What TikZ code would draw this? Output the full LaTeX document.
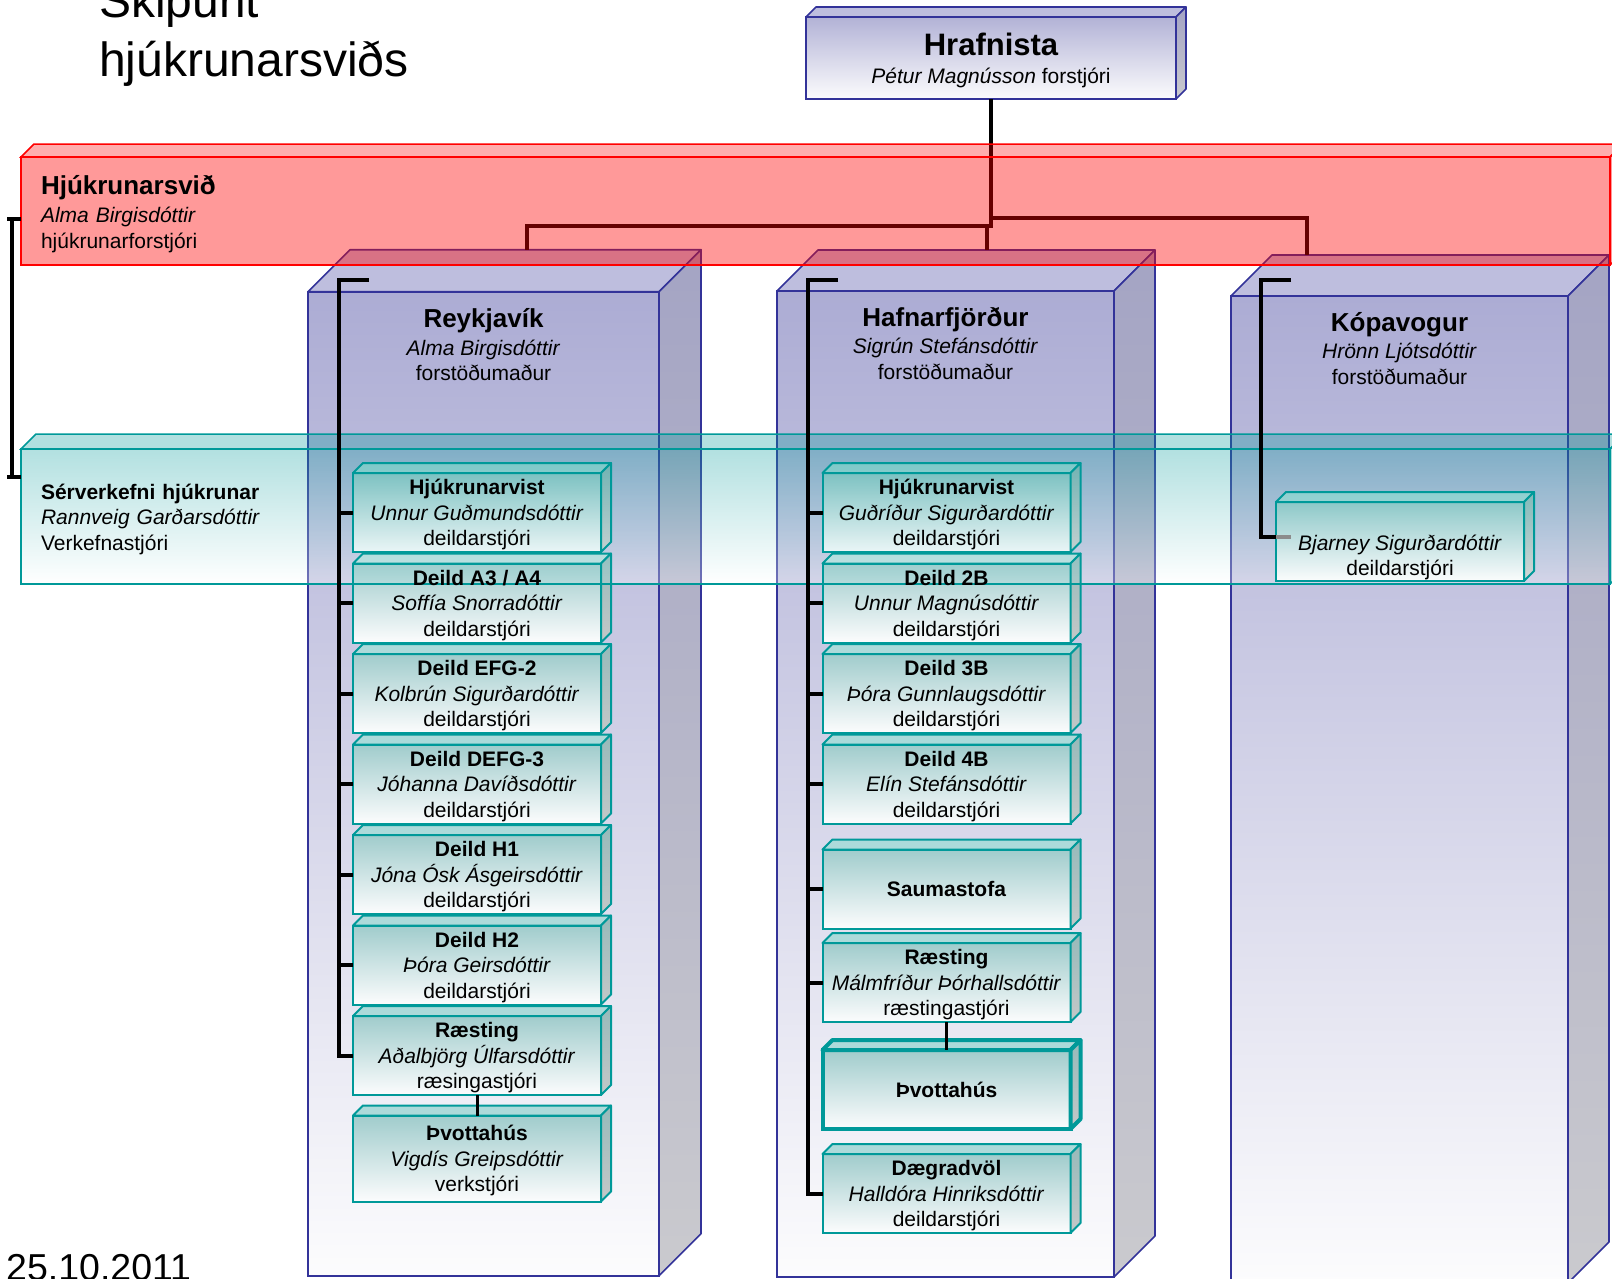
\documentclass[tikz,border=0pt]{standalone}
\usepackage{fontspec}
\setmainfont{Liberation Sans}
\usetikzlibrary{calc, positioning}

\definecolor{unitline}{RGB}{51,51,153}
\definecolor{unitfront}{RGB}{172,172,212}
\definecolor{unittop}{RGB}{190,190,222}
\definecolor{unitside}{RGB}{164,164,196}
\definecolor{unitsidelow}{RGB}{202,202,206}
\definecolor{headfront}{RGB}{178,178,214}
\definecolor{deptline}{RGB}{0,153,153}
\definecolor{deptfront}{RGB}{160,204,204}
\definecolor{depttop}{RGB}{172,218,218}
\definecolor{deptside}{RGB}{150,186,186}
\definecolor{deptsidelow}{RGB}{196,200,200}
\definecolor{paper}{RGB}{252,252,253}

% top and right faces of a box node: node, depth, top style, side style
\newcommand\boxfaces[4]{%
  \path[#3] (#1.north west) -- ++(#2,-#2) -- ($(#1.north east)+(#2,-#2)$) -- (#1.north east) -- cycle;
  \path[#4] (#1.north east) -- ++(#2,-#2) -- ($(#1.south east)+(#2,-#2)$) -- (#1.south east) -- cycle;
}

\begin{document}
\begin{tikzpicture}[x=1pt, y=-1pt,
    font=\fontsize{21}{25.5}\selectfont,
    unit/.style={draw=unitline, line width=1.6pt, top color=unitfront, bottom color=paper,
      anchor=north west, inner sep=0pt, outer sep=0pt},
    unittopface/.style={draw=unitline, line width=1.6pt, fill=unittop, line join=round},
    unitsideface/.style={draw=unitline, line width=1.6pt, top color=unitside, bottom color=unitsidelow, line join=round},
    unitlabel/.style={align=center, inner sep=0pt},
    bandtint/.style={path picture={
      \shade[top color=deptline, bottom color=white, fill opacity=0.3] (serv.north west) rectangle (serv.south east);
      \draw[deptline, line width=1.5pt] (serv.north west) rectangle (serv.south east);}},
    dept/.style={draw=deptline, line width=2pt, top color=deptfront, bottom color=paper, bandtint,
      minimum width=248pt, minimum height=79pt, inner sep=0pt, outer sep=0pt, align=center,
      text depth=-1.5pt},
    depttopface/.style={draw=deptline, line width=2pt, fill=depttop, bandtint, line join=round},
    deptsideface/.style={draw=deptline, line width=2pt, top color=deptside, bottom color=deptsidelow, bandtint, line join=round},
    band/.style={anchor=north west, minimum width=1589pt, text width=1549pt, inner xsep=20pt,
      inner ysep=0pt, outer sep=0pt, align=left, line width=1.5pt, text opacity=1},
    link/.style={line width=4pt},
  ]
  \useasboundingbox (0,0) rectangle (1612,1278);
  \clip (0,0) rectangle (1612,1278);

  % title and date
  \node[anchor=north west, inner sep=0pt, align=left, font=\fontsize{48}{59}\selectfont] (title) at (99,-17) {Skipurit\\hjúkrunarsviðs};
  \node[anchor=base west, inner sep=0pt, font=\fontsize{37.5}{37.5}\selectfont] (date) at (6,1280) {25.10.2011};

  % Reykjavík
  \node[unit, minimum width=351pt, minimum height=984pt] (rvk) at (308,291.7) {};
  \boxfaces{rvk}{42}{unittopface}{unitsideface}
  \node[unitlabel, below=17pt of rvk.north] (rvklabel) {{\fontsize{26}{26}\selectfont\bfseries Reykjavík}\\[2pt]\textit{Alma Birgisdóttir}\\forstöðumaður};

  % Hafnarfjörður
  \node[unit, minimum width=337pt, minimum height=986pt] (hfj) at (777,291) {};
  \boxfaces{hfj}{41}{unittopface}{unitsideface}
  \node[unitlabel, below=16pt of hfj.north] (hfjlabel) {{\fontsize{26}{26}\selectfont\bfseries Hafnarfjörður}\\[2pt]\textit{Sigrún Stefánsdóttir}\\forstöðumaður};

  % Kópavogur
  \node[unit, minimum width=337pt, minimum height=987pt] (kpv) at (1231,296) {};
  \boxfaces{kpv}{41}{unittopface}{unitsideface}
  \node[unitlabel, below=16pt of kpv.north] (kpvlabel) {{\fontsize{26}{26}\selectfont\bfseries Kópavogur}\\[2pt]\textit{Hrönn Ljótsdóttir}\\forstöðumaður};

  % Hrafnista
  \node[unit, top color=headfront, minimum width=370pt, minimum height=82pt, align=center,
    text depth=-2.5pt] (hraf) at (806,17)
    {{\fontsize{31}{31}\selectfont\bfseries Hrafnista}\\[2.5pt]\textit{Pétur Magnússon} forstjóri};
  \boxfaces{hraf}{10}{unittopface}{unitsideface}

  % Sérverkefni band
  \node[band, draw=deptline, top color=deptline, bottom color=white, fill opacity=0.3, minimum height=135pt,
    execute at begin node={\rule{0pt}{21pt}}] (serv) at (21,449)
    {\textbf{Sérverkefni hjúkrunar}\\\textit{Rannveig Garðarsdóttir}\\Verkefnastjóri};
  \boxfaces{serv}{15}{draw=deptline, line width=1.5pt, fill=deptline, fill opacity=0.3}{draw=deptline, line width=1.5pt, fill=deptline, fill opacity=0.3}

  % deildir Reykjavík
  \node[dept, anchor=north west] (r1) at (353,473) {\textbf{Hjúkrunarvist}\\\textit{Unnur Guðmundsdóttir}\\deildarstjóri};
  \node[dept, below=11.5pt of r1] (r2) {\textbf{Deild A3 / A4}\\\textit{Soffía Snorradóttir}\\deildarstjóri};
  \node[dept, below=11.5pt of r2] (r3) {\textbf{Deild EFG-2}\\\textit{Kolbrún Sigurðardóttir}\\deildarstjóri};
  \node[dept, below=11.5pt of r3] (r4) {\textbf{Deild DEFG-3}\\\textit{Jóhanna Davíðsdóttir}\\deildarstjóri};
  \node[dept, below=11.5pt of r4] (r5) {\textbf{Deild H1}\\\textit{Jóna Ósk Ásgeirsdóttir}\\deildarstjóri};
  \node[dept, below=11.5pt of r5] (r6) {\textbf{Deild H2}\\\textit{Þóra Geirsdóttir}\\deildarstjóri};
  \node[dept, below=11.5pt of r6] (r7) {\textbf{Ræsting}\\\textit{Aðalbjörg Úlfarsdóttir}\\ræsingastjóri};
  \node[dept, below=20.5pt of r7, minimum height=86pt] (r8) {\textbf{Þvottahús}\\\textit{Vigdís Greipsdóttir}\\verkstjóri};

  % deildir Hafnarfjörður
  \node[dept, anchor=north west] (h1) at (822.5,473) {\textbf{Hjúkrunarvist}\\\textit{Guðríður Sigurðardóttir}\\deildarstjóri};
  \node[dept, below=11.5pt of h1] (h2) {\textbf{Deild 2B}\\\textit{Unnur Magnúsdóttir}\\deildarstjóri};
  \node[dept, below=11.5pt of h2] (h3) {\textbf{Deild 3B}\\\textit{Þóra Gunnlaugsdóttir}\\deildarstjóri};
  \node[dept, below=11.5pt of h3] (h4) {\textbf{Deild 4B}\\\textit{Elín Stefánsdóttir}\\deildarstjóri};
  \node[dept, below=26pt of h4] (h5) {\textbf{Saumastofa}};
  \node[dept, below=14.5pt of h5] (h6) {\textbf{Ræsting}\\\textit{Málmfríður Þórhallsdóttir}\\ræstingastjóri};
  \node[dept, below=28pt of h6, line width=4pt] (h7) {\textbf{Þvottahús}};
  \node[dept, below=25pt of h7] (h8) {\textbf{Dægradvöl}\\\textit{Halldóra Hinriksdóttir}\\deildarstjóri};

  % deild Kópavogur
  \node[dept, anchor=north west] (k1) at (1276,502) {\strut\\\textit{Bjarney Sigurðardóttir}\\deildarstjóri};

  \foreach \b in {r1,r2,r3,r4,r5,r6,r7,r8,h1,h2,h3,h4,h5,h6,h8,k1}{
    \boxfaces{\b}{10}{depttopface}{deptsideface}
  }
  \boxfaces{h7}{10}{depttopface, line width=4pt}{deptsideface, line width=4pt}

  % connectors Reykjavík
  \coordinate (rvkbr) at ($(rvk.north west)+(31,-12)$);
  \coordinate (rvkbrend) at ($(rvkbr)+(30,0)$);
  \draw[link] (rvkbrend) -- (rvkbr) |- (r7.west);
  \foreach \b in {r1,r2,r3,r4,r5,r6}
    \draw[link] (rvkbr |- \b.west) -- (\b.west);
  \draw[line width=3pt] (r7.south) -- (r8.north);

  % connectors Hafnarfjörður
  \coordinate (hfjbr) at ($(hfj.north west)+(31,-11)$);
  \coordinate (hfjbrend) at ($(hfjbr)+(30,0)$);
  \draw[link] (hfjbrend) -- (hfjbr) |- (h8.west);
  \foreach \b in {h1,h2,h3,h4,h5,h6}
    \draw[link] (hfjbr |- \b.west) -- (\b.west);
  \draw[line width=3pt] (h6.south) -- (h7.north);

  % connectors Kópavogur
  \coordinate (kpvbr) at ($(kpv.north west)+(30,-16)$);
  \coordinate (kpvbrend) at ($(kpvbr)+(30,0)$);
  \coordinate (k1tab) at ($(k1.west)+(0,-5)$);
  \draw[link] (kpvbrend) -- (kpvbr) |- (k1tab);
  \draw[line width=4pt, black!45] (k1tab) -- ++(15,0);

  % Hrafnista to the units
  \coordinate (rvktop) at ($(rvk.north)+(43,-42)$);
  \coordinate (hfjtop) at ($(hfj.north)+(41,-41)$);
  \coordinate (kpvtop) at ($(kpv.north west)+(76,-41)$);
  \draw[link] (hraf.south) -- ++(0,127) -| (rvktop);
  \draw[link] (hraf.south) -- ++(0,119) -| (kpvtop);
  \draw[link] (hfjtop) -- ++(0,-24);

  % Hjúkrunarsvið band
  \node[band, draw=red, fill=red, fill opacity=0.4, minimum height=108pt,
    execute at begin node={\rule{0pt}{25pt}}] (svid) at (21,157)
    {{\fontsize{26}{26}\selectfont\bfseries Hjúkrunarsvið}\\[2.5pt]\textit{Alma Birgisdóttir}\\hjúkrunarforstjóri};
  \boxfaces{svid}{13}{draw=red, line width=1.5pt, fill=red, fill opacity=0.32}{draw=red, line width=1.5pt, fill=red, fill opacity=0.4}

  % svið to sérverkefni
  \coordinate (svidtab) at ($(svid.south west)+(0,-46)$);
  \coordinate (servtab) at ($(serv.north west)+(0,28)$);
  \draw[link] (svidtab) -- ++(-14,0);
  \draw[link] (servtab) -- ++(-14,0);
  \draw[link] ($(svidtab)+(-9,0)$) -- ($(servtab)+(-9,0)$);
\end{tikzpicture}
\end{document}
